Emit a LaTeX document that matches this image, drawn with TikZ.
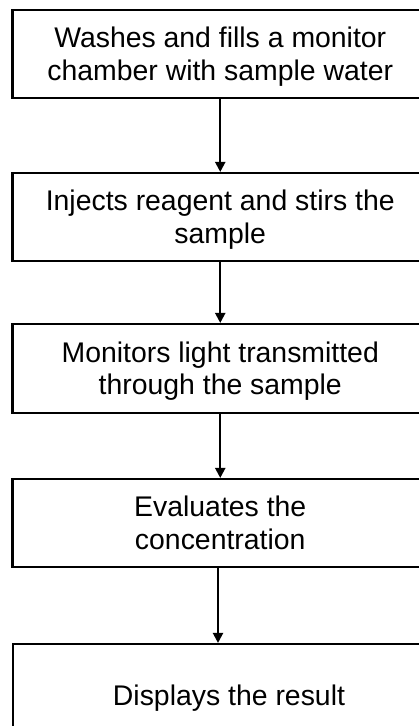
\documentclass[tikz,border=0pt]{standalone}
\usepackage{fontspec}
\setmainfont{Liberation Sans}
\usetikzlibrary{arrows.meta}
\begin{document}
\begin{tikzpicture}[x=1pt,y=-1pt,
  stepbox/.style={draw, line width=2.1pt, minimum width=415.5pt, minimum height=88pt,
    align=center, inner sep=0pt, text height=52.5pt, text depth=0pt,
    font=\fontsize{28.4}{32.5}\selectfont},
  flow/.style={line width=2.1pt, -{Triangle[width=10pt,length=10pt]}}]
\useasboundingbox (0,0) rectangle (418,726);
\node[stepbox] (b1) at (220.25,54) {Washes and fills a monitor\\chamber with sample water};
\node[stepbox] (b2) at (220.25,217) {Injects reagent and stirs the\\sample};
\node[stepbox, minimum height=89pt] (b3) at (220.25,368.5) {Monitors light transmitted\\through the sample};
\node[stepbox] (b4) at (220.25,523) {Evaluates the\\concentration};
\node[stepbox, text height=20pt, minimum width=432pt, minimum height=102pt] (b5) at (229,695) {Displays the result};
\draw[flow] (b1.south) -- (b2.north);
\draw[flow] (b2.south) -- (b3.north);
\draw[flow] (b3.south) -- (b4.north);
\draw[flow] ([xshift=-2.25pt]b4.south) -- ([xshift=-2.25pt]b4.south |- b5.north);
\end{tikzpicture}
\end{document}
